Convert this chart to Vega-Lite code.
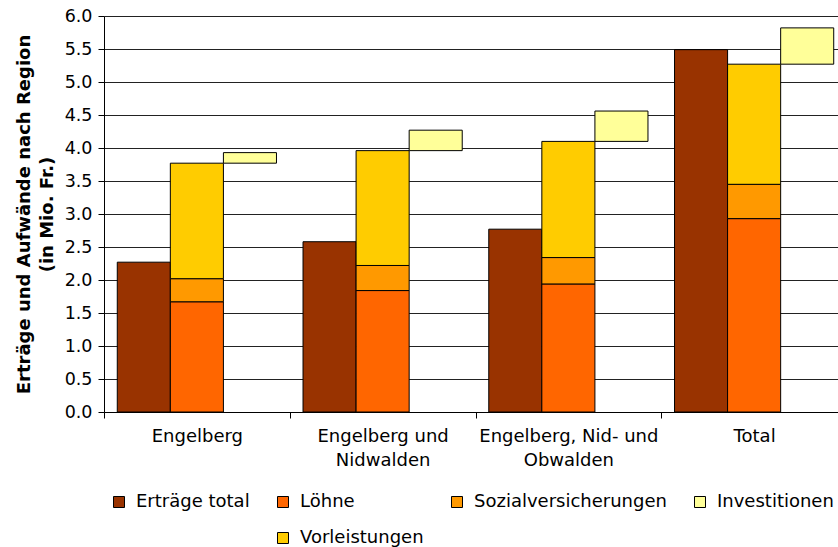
{
  "$schema": "https://vega.github.io/schema/vega-lite/v6.json",
  "width": 734,
  "height": 396,
  "autosize": {"type": "none"},
  "padding": {"left": 104, "top": 16, "right": 0, "bottom": 135},
  "background": "white",
  "config": {
    "view": {"stroke": null},
    "font": "DejaVu Sans"
  },
  "data": {
    "values": [
      {"region": "Engelberg", "series": "Erträge total", "col": "1", "grp": "E", "ord": 0, "value": 2.27},
      {"region": "Engelberg", "series": "Löhne", "col": "2", "grp": "A", "ord": 1, "value": 1.67},
      {"region": "Engelberg", "series": "Sozialversicherungen", "col": "2", "grp": "A", "ord": 2, "value": 0.35},
      {"region": "Engelberg", "series": "Vorleistungen", "col": "2", "grp": "A", "ord": 3, "value": 1.75},
      {"region": "Engelberg", "series": "Investitionen", "col": "3", "grp": "A", "ord": 4, "value": 0.16},
      {"region": "Engelberg und Nidwalden", "series": "Erträge total", "col": "1", "grp": "E", "ord": 0, "value": 2.58},
      {"region": "Engelberg und Nidwalden", "series": "Löhne", "col": "2", "grp": "A", "ord": 1, "value": 1.84},
      {"region": "Engelberg und Nidwalden", "series": "Sozialversicherungen", "col": "2", "grp": "A", "ord": 2, "value": 0.38},
      {"region": "Engelberg und Nidwalden", "series": "Vorleistungen", "col": "2", "grp": "A", "ord": 3, "value": 1.74},
      {"region": "Engelberg und Nidwalden", "series": "Investitionen", "col": "3", "grp": "A", "ord": 4, "value": 0.31},
      {"region": "Engelberg, Nid- und Obwalden", "series": "Erträge total", "col": "1", "grp": "E", "ord": 0, "value": 2.77},
      {"region": "Engelberg, Nid- und Obwalden", "series": "Löhne", "col": "2", "grp": "A", "ord": 1, "value": 1.94},
      {"region": "Engelberg, Nid- und Obwalden", "series": "Sozialversicherungen", "col": "2", "grp": "A", "ord": 2, "value": 0.40},
      {"region": "Engelberg, Nid- und Obwalden", "series": "Vorleistungen", "col": "2", "grp": "A", "ord": 3, "value": 1.76},
      {"region": "Engelberg, Nid- und Obwalden", "series": "Investitionen", "col": "3", "grp": "A", "ord": 4, "value": 0.46},
      {"region": "Total", "series": "Erträge total", "col": "1", "grp": "E", "ord": 0, "value": 5.49},
      {"region": "Total", "series": "Löhne", "col": "2", "grp": "A", "ord": 1, "value": 2.93},
      {"region": "Total", "series": "Sozialversicherungen", "col": "2", "grp": "A", "ord": 2, "value": 0.52},
      {"region": "Total", "series": "Vorleistungen", "col": "2", "grp": "A", "ord": 3, "value": 1.82},
      {"region": "Total", "series": "Investitionen", "col": "3", "grp": "A", "ord": 4, "value": 0.55}
    ]
  },
  "transform": [
    {"stack": "value", "groupby": ["region", "grp"], "sort": [{"field": "ord", "order": "ascending"}], "as": ["y0", "y1"]}
  ],
  "mark": {"type": "bar", "stroke": "black", "strokeWidth": 1},
  "encoding": {
    "x": {
      "field": "region",
      "type": "nominal",
      "sort": ["Engelberg", "Engelberg und Nidwalden", "Engelberg, Nid- und Obwalden", "Total"],
      "scale": {"paddingInner": 0, "paddingOuter": 0, "range": [0, 743]},
      "axis": {
        "title": null,
        "labelAngle": 0,
        "labelExpr": "datum.value == 'Engelberg und Nidwalden' ? ['Engelberg und', 'Nidwalden'] : datum.value == 'Engelberg, Nid- und Obwalden' ? ['Engelberg, Nid- und', 'Obwalden'] : datum.value",
        "labelFontSize": 18,
        "labelColor": "black",
        "labelLineHeight": 24,
        "labelPadding": 9,
        "tickBand": "extent",
        "tickSize": 6,
        "tickColor": "black",
        "domainColor": "black",
        "domainWidth": 1,
        "grid": false
      }
    },
    "xOffset": {
      "field": "col",
      "type": "nominal",
      "scale": {"paddingInner": 0, "paddingOuter": 0.25}
    },
    "y": {
      "field": "y1",
      "type": "quantitative",
      "scale": {"domain": [0, 6], "nice": false, "zero": true},
      "axis": {
        "title": ["Erträge und Aufwände nach Region", "(in Mio. Fr.)"],
        "titleFontSize": 18,
        "titleFontWeight": "bold",
        "titleColor": "black",
        "titleLineHeight": 23,
        "titlePadding": 8,
        "values": [0, 0.5, 1, 1.5, 2, 2.5, 3, 3.5, 4, 4.5, 5, 5.5, 6],
        "format": ".1f",
        "labelFontSize": 17.5,
        "labelColor": "black",
        "labelPadding": 6,
        "tickSize": 6,
        "tickColor": "black",
        "domainColor": "black",
        "gridColor": "#222222",
        "gridWidth": 1,
        "gridOpacity": 1
      }
    },
    "y2": {"field": "y0"},
    "color": {
      "field": "series",
      "type": "nominal",
      "scale": {
        "domain": ["Erträge total", "Löhne", "Sozialversicherungen", "Investitionen", " ", "Vorleistungen"],
        "range": ["#993300", "#FF6600", "#FF9900", "#FFFF99", "#FFFFFF", "#FFCC00"]
      },
      "legend": {
        "title": null,
        "orient": "none",
        "legendX": 6,
        "legendY": 477,
        "direction": "horizontal",
        "columns": 4,
        "columnPadding": 24,
        "rowPadding": 18,
        "symbolType": "square",
        "symbolSize": 121,
        "symbolStrokeWidth": 1,
        "symbolStrokeColor": "black",
        "labelFontSize": 18,
        "labelColor": "black",
        "labelOffset": 8,
        "labelLimit": 300,
        "encode": {
          "symbols": {
            "update": {
              "opacity": {"signal": "datum.value == ' ' ? 0 : 1"}
            }
          }
        }
      }
    }
  }
}
